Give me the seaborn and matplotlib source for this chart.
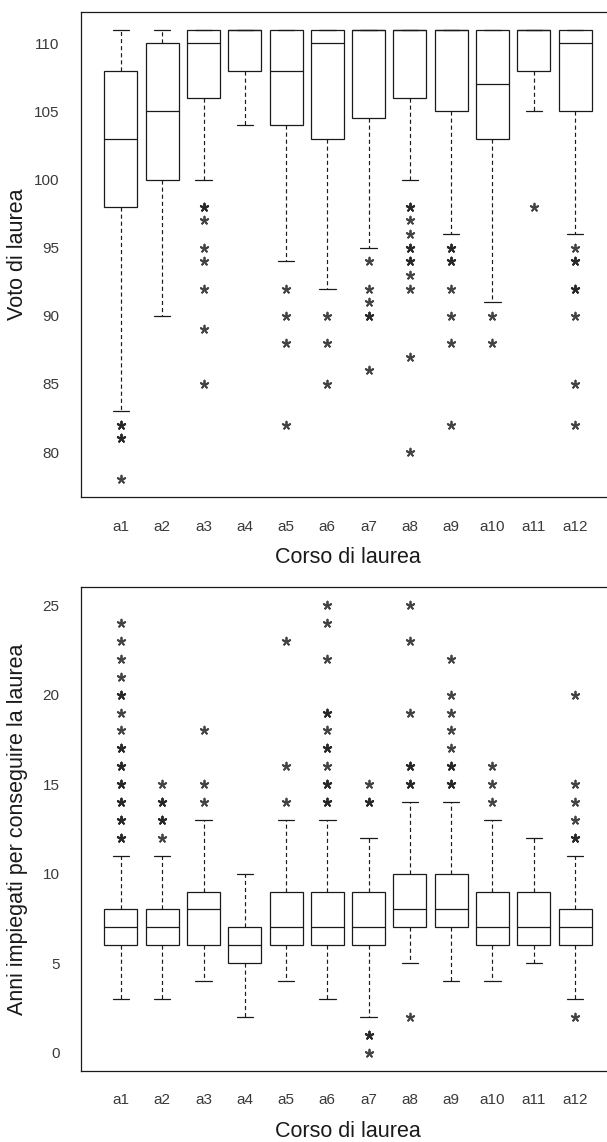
import numpy as np
import pandas as pd
import matplotlib
matplotlib.use("Agg")
import matplotlib.pyplot as plt
import seaborn as sns

# ---------------- data ----------------
corsi = ["a1", "a2", "a3", "a4", "a5", "a6", "a7", "a8", "a9", "a10", "a11", "a12"]

# Voto di laurea: five-number summaries (lower whisker, Q1, median, Q3, upper whisker)
voto_low = [83, 90, 100, 104, 94, 92, 95, 100, 96, 91, 105, 96]
voto_q1 = [98, 100, 106, 108, 104, 103, 104.5, 106, 105, 103, 108, 105]
voto_med = [103, 105, 110, 111, 108, 110, 111, 111, 111, 107, 111, 110]
voto_q3 = [108, 110, 111, 111, 111, 111, 111, 111, 111, 111, 111, 111]
voto_high = [111, 111, 111, 111, 111, 111, 111, 111, 111, 111, 111, 111]
voto_outliers = {
    "a1": [82, 82, 81, 81, 78],
    "a2": [],
    "a3": [98, 98, 97, 95, 94, 92, 89, 85],
    "a4": [],
    "a5": [92, 90, 88, 82],
    "a6": [90, 88, 85],
    "a7": [94, 92, 91, 90, 90, 86],
    "a8": [98, 98, 97, 96, 95, 95, 94, 94, 93, 92, 87, 80],
    "a9": [95, 95, 94, 94, 92, 90, 88, 82],
    "a10": [90, 88],
    "a11": [98],
    "a12": [95, 94, 94, 92, 92, 90, 85, 82],
}

# Anni impiegati per conseguire la laurea
anni_low = [3, 3, 4, 2, 4, 3, 2, 5, 4, 4, 5, 3]
anni_q1 = [6, 6, 6, 5, 6, 6, 6, 7, 7, 6, 6, 6]
anni_med = [7, 7, 8, 6, 7, 7, 7, 8, 8, 7, 7, 7]
anni_q3 = [8, 8, 9, 7, 9, 9, 9, 10, 10, 9, 9, 8]
anni_high = [11, 11, 13, 10, 13, 13, 12, 14, 14, 13, 12, 11]
anni_outliers = {
    "a1": [24, 23, 22, 21, 20, 20, 19, 18, 17, 17, 16, 16, 15, 15, 14, 14, 13, 13, 12, 12],
    "a2": [15, 14, 14, 13, 13, 12],
    "a3": [18, 15, 14],
    "a4": [],
    "a5": [23, 16, 14],
    "a6": [25, 24, 22, 19, 19, 18, 17, 17, 16, 15, 15, 14, 14],
    "a7": [15, 14, 14, 1, 1, 0],
    "a8": [25, 23, 19, 16, 16, 15, 15, 2],
    "a9": [22, 20, 19, 18, 17, 16, 16, 15, 15],
    "a10": [16, 15, 14],
    "a11": [],
    "a12": [20, 15, 14, 13, 12, 12, 2],
}

x_title = "Corso di laurea"
y_title_top = "Voto di laurea"
y_title_bottom = "Anni impiegati per conseguire la laurea"
yticks_top = [80, 85, 90, 95, 100, 105, 110]
yticks_bottom = [0, 5, 10, 15, 20, 25]


def summary_frame(low, q1, med, q3, high):
    rows = []
    for c, a, b, m, d, e in zip(corsi, low, q1, med, q3, high):
        for v in (a, b, m, d, e):
            rows.append({"corso": c, "valore": v})
    return pd.DataFrame(rows)


def outlier_frame(outs):
    rows = [{"corso": c, "valore": v} for c in corsi for v in outs[c]]
    return pd.DataFrame(rows)


# ---------------- style ----------------
sns.set_style("white")
plt.rcParams["font.family"] = ["Liberation Sans", "DejaVu Sans"]
INK = "#1a1a1a"

W, H = 607, 1142
fig = plt.figure(figsize=(W / 100, H / 100), dpi=100)

left = 80.5 / W
width = 535 / W
ax_top = fig.add_axes([left, (H - 497.3) / H, width, 485.6 / H])
ax_bot = fig.add_axes([left, (H - 1070.6) / H, width, 483.3 / H])


def draw(ax, low, q1, med, q3, high, outs, ylim, yticks, ylabel):
    box_df = summary_frame(low, q1, med, q3, high)
    sns.boxplot(
        data=box_df, x="corso", y="valore", order=corsi, ax=ax,
        whis=np.inf, width=0.8, color="white", saturation=1,
        linecolor=INK, linewidth=0.9, showfliers=False,
        whiskerprops=dict(linestyle=(0, (3.5, 2.5)), linewidth=0.85),
        capprops=dict(linewidth=0.9),
        capwidths=0.4,
    )
    out_df = outlier_frame(outs)
    sns.stripplot(
        data=out_df, x="corso", y="valore", order=corsi, ax=ax,
        jitter=False, marker=(5, 2, 0), color="#222222",
        edgecolor="#222222", alpha=0.85, size=5.6, linewidth=1.3,
    )
    ax.set_xlim(-0.98, 11.98)
    ax.set_ylim(*ylim)
    ax.set_yticks(yticks)
    ax.set_yticklabels([str(t) for t in yticks])
    ax.tick_params(axis="both", which="both", direction="out", length=8,
                   width=0.8, color=INK, labelsize=11, labelcolor="#3a3a3a")
    ax.tick_params(axis="x", pad=8)
    ax.tick_params(axis="y", pad=7)
    for s in ax.spines.values():
        s.set_visible(True)
        s.set_color(INK)
        s.set_linewidth(0.9)
    ax.set_xlabel(x_title, fontsize=15.5, color=INK)
    ax.set_ylabel(ylabel, fontsize=15.5, color=INK)
    ax.xaxis.label.set_va("center")
    ax.yaxis.label.set_va("center")
    h_px = ax.get_position().height * H
    ax.xaxis.set_label_coords(0.5, -60.5 / h_px)
    ax.yaxis.set_label_coords((18 - 80.5) / 535, 0.5)
    ax.grid(False)


draw(ax_top, voto_low, voto_q1, voto_med, voto_q3, voto_high, voto_outliers,
     (76.68, 112.32), yticks_top, y_title_top)
draw(ax_bot, anni_low, anni_q1, anni_med, anni_q3, anni_high, anni_outliers,
     (-1.0, 26.0), yticks_bottom, y_title_bottom)

fig.savefig("out.png", dpi=100, facecolor="white")
